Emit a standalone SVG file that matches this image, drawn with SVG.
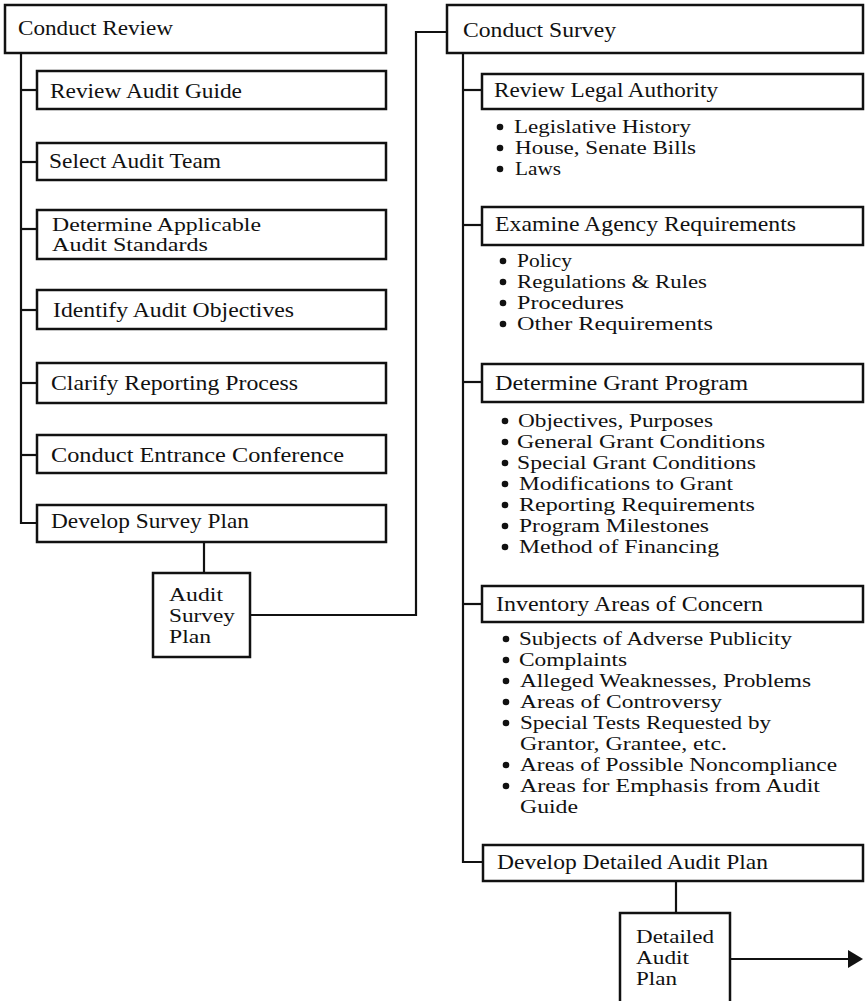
<svg xmlns="http://www.w3.org/2000/svg" width="866" height="1001" viewBox="0 0 866 1001">
<defs>
<style>
.box{fill:#fff;stroke:#111;stroke-width:2.5}
.ln{fill:none;stroke:#111;stroke-width:2.2}
text{font-family:"Liberation Serif","Times New Roman",serif;font-size:21px;fill:#111}
text.m{font-size:18.5px}
text.s{font-size:18px}
.b{fill:#111}
</style>
</defs>
<g id="connectors">
<polyline class="ln" points="21,53 21,523 37,523"/>
<line class="ln" x1="21" y1="90" x2="37" y2="90"/>
<line class="ln" x1="21" y1="162" x2="37" y2="162"/>
<line class="ln" x1="21" y1="229" x2="37" y2="229"/>
<line class="ln" x1="21" y1="310" x2="37" y2="310"/>
<line class="ln" x1="21" y1="383" x2="37" y2="383"/>
<line class="ln" x1="21" y1="455" x2="37" y2="455"/>
<line class="ln" x1="204" y1="542" x2="204" y2="573"/>
<polyline class="ln" points="251,615 416,615 416,32 447,32"/>
<polyline class="ln" points="463,53 463,862 483,862"/>
<line class="ln" x1="463" y1="90" x2="482" y2="90"/>
<line class="ln" x1="463" y1="225" x2="482" y2="225"/>
<line class="ln" x1="463" y1="382" x2="482" y2="382"/>
<line class="ln" x1="463" y1="604" x2="482" y2="604"/>
<line class="ln" x1="676" y1="881" x2="676" y2="913"/>
<line class="ln" x1="730" y1="959" x2="850" y2="959"/>
<polygon class="b" points="848,950 863,959 848,968"/>
</g>
<g id="n-conduct-review">
<rect class="box" x="5" y="5" width="381" height="48"/>
<text x="18" y="35" textLength="155" lengthAdjust="spacingAndGlyphs">Conduct Review</text>
</g>
<g id="n-review-audit-guide">
<rect class="box" x="37" y="71" width="349" height="38"/>
<text x="50" y="98" textLength="192" lengthAdjust="spacingAndGlyphs">Review Audit Guide</text>
</g>
<g id="n-select-audit-team">
<rect class="box" x="37" y="143" width="349" height="37"/>
<text x="49" y="168" textLength="172" lengthAdjust="spacingAndGlyphs">Select Audit Team</text>
</g>
<g id="n-determine-standards">
<rect class="box" x="37" y="210" width="349" height="49"/>
<text class="s" x="52" y="231" textLength="209" lengthAdjust="spacingAndGlyphs">Determine Applicable</text>
<text class="s" x="52" y="251" textLength="156" lengthAdjust="spacingAndGlyphs">Audit Standards</text>
</g>
<g id="n-identify-objectives">
<rect class="box" x="37" y="290" width="349" height="39"/>
<text x="53" y="317" textLength="241" lengthAdjust="spacingAndGlyphs">Identify Audit Objectives</text>
</g>
<g id="n-clarify-reporting">
<rect class="box" x="37" y="363" width="349" height="40"/>
<text x="51" y="390" textLength="247" lengthAdjust="spacingAndGlyphs">Clarify Reporting Process</text>
</g>
<g id="n-entrance-conference">
<rect class="box" x="37" y="435" width="349" height="38"/>
<text x="51" y="462" textLength="293" lengthAdjust="spacingAndGlyphs">Conduct Entrance Conference</text>
</g>
<g id="n-develop-survey-plan">
<rect class="box" x="37" y="505" width="349" height="37"/>
<text x="51" y="528" textLength="198" lengthAdjust="spacingAndGlyphs">Develop Survey Plan</text>
</g>
<g id="n-audit-survey-plan">
<rect class="box" x="153" y="573" width="97" height="84"/>
<text class="m" x="169" y="601" textLength="54" lengthAdjust="spacingAndGlyphs">Audit</text>
<text class="m" x="169" y="622" textLength="66" lengthAdjust="spacingAndGlyphs">Survey</text>
<text class="m" x="169" y="643" textLength="42" lengthAdjust="spacingAndGlyphs">Plan</text>
</g>
<g id="n-conduct-survey">
<rect class="box" x="447" y="5" width="416" height="48"/>
<text x="463" y="37" textLength="153" lengthAdjust="spacingAndGlyphs">Conduct Survey</text>
</g>
<g id="n-review-legal">
<rect class="box" x="482" y="74" width="381" height="35"/>
<text x="494" y="97" textLength="224" lengthAdjust="spacingAndGlyphs">Review Legal Authority</text>
<circle class="b" cx="500" cy="127" r="3.3"/>
<circle class="b" cx="500" cy="148" r="3.3"/>
<circle class="b" cx="500" cy="169" r="3.3"/>
<text class="m" x="514" y="133" textLength="177" lengthAdjust="spacingAndGlyphs">Legislative History</text>
<text class="m" x="515" y="154" textLength="181" lengthAdjust="spacingAndGlyphs">House, Senate Bills</text>
<text class="m" x="515" y="175" textLength="46" lengthAdjust="spacingAndGlyphs">Laws</text>
</g>
<g id="n-examine-agency">
<rect class="box" x="482" y="207" width="381" height="38"/>
<text x="495" y="231" textLength="301" lengthAdjust="spacingAndGlyphs">Examine Agency Requirements</text>
<circle class="b" cx="503" cy="261" r="3.3"/>
<circle class="b" cx="503" cy="282" r="3.3"/>
<circle class="b" cx="503" cy="303" r="3.3"/>
<circle class="b" cx="503" cy="324" r="3.3"/>
<text class="m" x="517" y="267" textLength="55" lengthAdjust="spacingAndGlyphs">Policy</text>
<text class="m" x="517" y="288" textLength="190" lengthAdjust="spacingAndGlyphs">Regulations &amp; Rules</text>
<text class="m" x="517" y="309" textLength="107" lengthAdjust="spacingAndGlyphs">Procedures</text>
<text class="m" x="517" y="330" textLength="196" lengthAdjust="spacingAndGlyphs">Other Requirements</text>
</g>
<g id="n-determine-grant">
<rect class="box" x="482" y="364" width="381" height="38"/>
<text x="495" y="390" textLength="253" lengthAdjust="spacingAndGlyphs">Determine Grant Program</text>
<circle class="b" cx="505" cy="421" r="3.3"/>
<circle class="b" cx="505" cy="442" r="3.3"/>
<circle class="b" cx="505" cy="463" r="3.3"/>
<circle class="b" cx="505" cy="484" r="3.3"/>
<circle class="b" cx="505" cy="505" r="3.3"/>
<circle class="b" cx="505" cy="526" r="3.3"/>
<circle class="b" cx="505" cy="547" r="3.3"/>
<text class="m" x="518" y="427" textLength="195" lengthAdjust="spacingAndGlyphs">Objectives, Purposes</text>
<text class="m" x="517" y="448" textLength="248" lengthAdjust="spacingAndGlyphs">General Grant Conditions</text>
<text class="m" x="517" y="469" textLength="239" lengthAdjust="spacingAndGlyphs">Special Grant Conditions</text>
<text class="m" x="519" y="490" textLength="214" lengthAdjust="spacingAndGlyphs">Modifications to Grant</text>
<text class="m" x="519" y="511" textLength="236" lengthAdjust="spacingAndGlyphs">Reporting Requirements</text>
<text class="m" x="519" y="532" textLength="190" lengthAdjust="spacingAndGlyphs">Program Milestones</text>
<text class="m" x="519" y="553" textLength="200" lengthAdjust="spacingAndGlyphs">Method of Financing</text>
</g>
<g id="n-inventory-concern">
<rect class="box" x="482" y="586" width="381" height="36"/>
<text x="496" y="611" textLength="267" lengthAdjust="spacingAndGlyphs">Inventory Areas of Concern</text>
<circle class="b" cx="506" cy="639" r="3.3"/>
<circle class="b" cx="506" cy="660" r="3.3"/>
<circle class="b" cx="506" cy="681" r="3.3"/>
<circle class="b" cx="506" cy="702" r="3.3"/>
<circle class="b" cx="506" cy="723" r="3.3"/>
<circle class="b" cx="506" cy="765" r="3.3"/>
<circle class="b" cx="506" cy="786" r="3.3"/>
<text class="m" x="519" y="645" textLength="273" lengthAdjust="spacingAndGlyphs">Subjects of Adverse Publicity</text>
<text class="m" x="519" y="666" textLength="108" lengthAdjust="spacingAndGlyphs">Complaints</text>
<text class="m" x="520" y="687" textLength="291" lengthAdjust="spacingAndGlyphs">Alleged Weaknesses, Problems</text>
<text class="m" x="520" y="708" textLength="202" lengthAdjust="spacingAndGlyphs">Areas of Controversy</text>
<text class="m" x="520" y="729" textLength="251" lengthAdjust="spacingAndGlyphs">Special Tests Requested by</text>
<text class="m" x="520" y="750" textLength="207" lengthAdjust="spacingAndGlyphs">Grantor, Grantee, etc.</text>
<text class="m" x="520" y="771" textLength="317" lengthAdjust="spacingAndGlyphs">Areas of Possible Noncompliance</text>
<text class="m" x="520" y="792" textLength="300" lengthAdjust="spacingAndGlyphs">Areas for Emphasis from Audit</text>
<text class="m" x="520" y="813" textLength="58" lengthAdjust="spacingAndGlyphs">Guide</text>
</g>
<g id="n-develop-detailed">
<rect class="box" x="483" y="845" width="380" height="36"/>
<text x="497" y="869" textLength="271" lengthAdjust="spacingAndGlyphs">Develop Detailed Audit Plan</text>
</g>
<g id="n-detailed-audit-plan">
<rect class="box" x="620" y="913" width="110" height="95"/>
<text class="m" x="636" y="943" textLength="78" lengthAdjust="spacingAndGlyphs">Detailed</text>
<text class="m" x="636" y="964" textLength="53" lengthAdjust="spacingAndGlyphs">Audit</text>
<text class="m" x="636" y="985" textLength="41" lengthAdjust="spacingAndGlyphs">Plan</text>
</g>
</svg>
